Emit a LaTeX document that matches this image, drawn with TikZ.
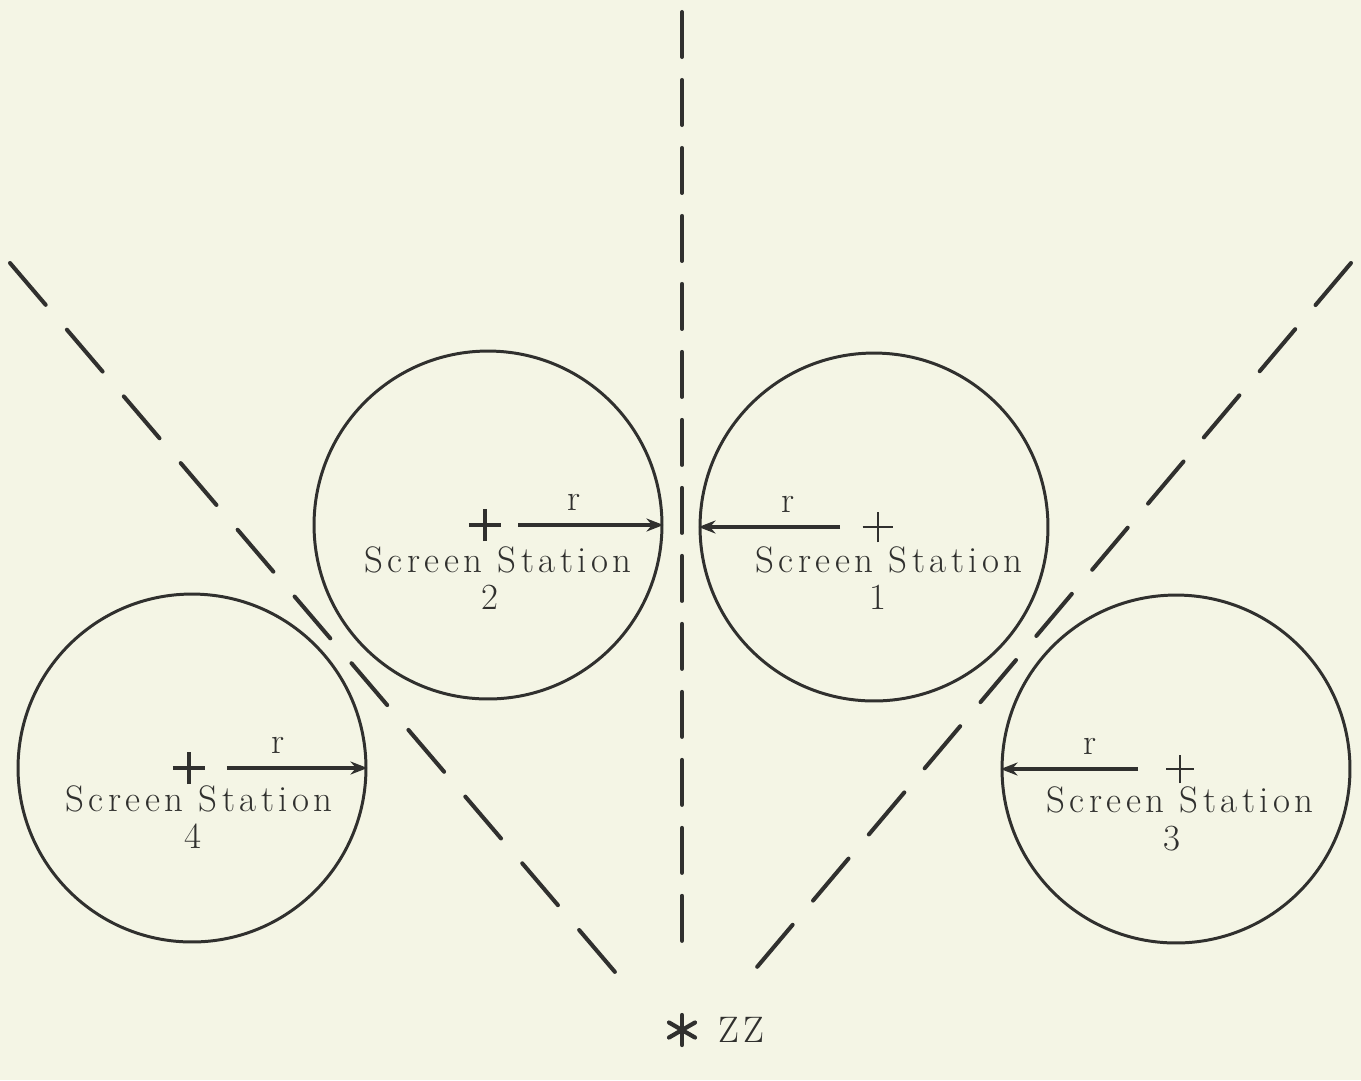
\documentclass[tikz,border=0pt]{standalone}
\usepackage{fontspec}
\usepackage{xcolor}
\usetikzlibrary{arrows.meta,positioning,shapes.misc}
\newfontfamily\stationfont{Latin Modern Roman}[LetterSpace=12]
\definecolor{paper}{RGB}{244,245,229}
\definecolor{ink}{RGB}{48,48,46}

\begin{document}
\begin{tikzpicture}[x=0.02cm,y=-0.02cm,
  station/.style={circle,draw=ink,line width=1.7pt,minimum size=6.96cm,inner sep=0pt},
  plusmark/.style={cross out,draw=ink,line width=2.2pt,minimum size=0.38cm,inner sep=0pt,rotate=45},
  sector/.style={draw=ink,line width=2.3pt,line cap=round,dash pattern=on 0.9cm off 0.46cm},
  rline/.style={draw=ink,line width=1.8pt,-{Stealth[length=0.34cm,width=0.26cm]}},
  lbl/.style={text=ink,inner sep=0pt,font=\stationfont\fontsize{21}{24}\selectfont}]
\useasboundingbox (0,0) rectangle (1361,1080);
\fill[paper] (0,0) rectangle (1361,1080);
% dashed sector lines out of ZZ
\coordinate (zz) at (682,1030);
\draw[sector] (682,12)--(682,942);
\draw[sector,dash pattern=on 1.1cm off 0.654cm] (10,263)--(615,972);
\draw[sector,dash pattern=on 1.1cm off 0.632cm] (1351,263)--(757,967);
% screen stations
\node[station] (s1) at (874,527) {};
\node[station] (s2) at (488,525) {};
\node[station] (s3) at (1176,769) {};
\node[station] (s4) at (192,768) {};
\node[plusmark,line width=1.6pt] (p1) at (878,527) {};
\node[plusmark] (p2) at (485,525) {};
\node[plusmark,line width=1.6pt,minimum size=0.34cm] (p3) at (1180,769) {};
\node[plusmark] (p4) at (189,768) {};
\draw[rline,shorten <=0.76cm] (p1.center)--node[lbl,above=0.25cm] {r} (s1.west);
\draw[rline,shorten <=0.66cm] (p2.center)--node[lbl,above=0.25cm] {r} (s2.east);
\draw[rline,shorten <=0.84cm] (p3.center)--node[lbl,above=0.25cm] {r} (s3.west);
\draw[rline,shorten <=0.76cm] (p4.center)--node[lbl,above=0.25cm] {r} (s4.east);
\node[lbl,anchor=base] (t1) at (889,572) {Screen Station};
\node[lbl,anchor=base] (t2) at (498,572) {Screen Station};
\node[lbl,anchor=base] (t3) at (1180,812) {Screen Station};
\node[lbl,anchor=base] (t4) at (199,811) {Screen Station};
\node[lbl,anchor=base] (n1) at ([xshift=-0.22cm,yshift=-0.74cm]t1.base) {1};
\node[lbl,anchor=base] (n2) at ([xshift=-0.16cm,yshift=-0.74cm]t2.base) {2};
\node[lbl,anchor=base] (n3) at ([xshift=-0.16cm,yshift=-0.76cm]t3.base) {3};
\node[lbl,anchor=base] (n4) at ([xshift=-0.12cm,yshift=-0.74cm]t4.base) {4};
% ZZ
\foreach \a in {90,30,150} \draw[ink,line width=2.4pt,line cap=round] (zz) ++(\a:15)--++(\a+180:30);
\node[lbl,right=0.72cm of zz] (zzl) {ZZ};
\end{tikzpicture}
\end{document}
